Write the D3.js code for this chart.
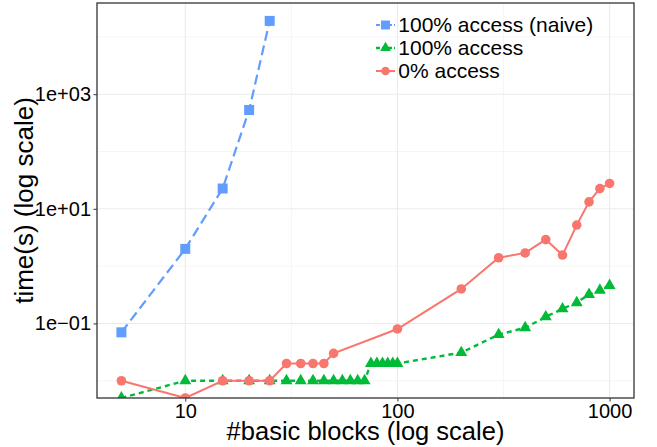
<!DOCTYPE html>
<html>
<head>
<meta charset="utf-8">
<script src="https://cdn.jsdelivr.net/npm/d3@7"></script>
<style>
  body { margin: 0; background: #fff; }
  svg { font-family: "Liberation Sans", Arial, Helvetica, sans-serif; }
  .axis text { fill: #000; font-size: 20px; }
  .axis line { stroke: #333; stroke-width: 1; }
</style>
</head>
<body>
<div id="chart"></div>
<script>
// series values
var naiveX = [5, 10, 15, 20, 25];
var naiveY = [0.07, 2, 22.6, 530, 19000];

var fullX = [5, 10, 15, 20, 25, 30, 35, 40, 45, 50, 55, 60, 65, 70,
             75, 80, 85, 90, 95, 100, 200, 300, 400, 500, 600, 700, 800, 900, 1000];
var fullY = [0.005, 0.01, 0.01, 0.01, 0.01, 0.01, 0.01, 0.01, 0.01, 0.01, 0.01, 0.01, 0.01, 0.01,
             0.02, 0.02, 0.02, 0.02, 0.02, 0.02, 0.031, 0.064, 0.084, 0.13, 0.18, 0.23, 0.32, 0.38, 0.46];

var zeroX = [5, 10, 15, 20, 25, 30, 35, 40, 45, 50, 100, 200, 300, 400, 500, 600, 700, 800, 900, 1000];
var zeroY = [0.01, 0.005, 0.01, 0.01, 0.01, 0.02, 0.02, 0.02, 0.02, 0.03, 0.08, 0.4, 1.4, 1.7, 2.9, 1.56, 5.2, 13.2, 22.6, 27.7];

var seriesNames = ["100% access (naive)", "100% access", "0% access"];

var xTicks = [10, 100, 1000];
var xTickLabels = ["10", "100", "1000"];
var yTicks = [0.1, 10, 1000];
var yTickLabels = ["1e\u221201", "1e+01", "1e+03"];
var yLimits = [0.005, 39000];

var width = 657, height = 447;
var panel = {left: 97, right: 634, top: 3, bottom: 398};

var svg = d3.select("#chart").append("svg")
    .attr("width", width)
    .attr("height", height);

// ggplot style 5% expansion on the log x range
var lx = d3.extent(fullX.concat(zeroX, naiveX)).map(Math.log10);
var pad = (lx[1] - lx[0]) * 0.05;
var x = d3.scaleLog()
    .domain([Math.pow(10, lx[0] - pad), Math.pow(10, lx[1] + pad)])
    .range([panel.left, panel.right]);

var y = d3.scaleLog()
    .domain(yLimits)
    .range([panel.bottom, panel.top]);

// grid: minor lines half way between majors (in log space)
function minorOf(ticks) {
    var out = [];
    var all = [ticks[0] / (ticks[1] / ticks[0])].concat(ticks, [ticks[ticks.length - 1] * (ticks[1] / ticks[0])]);
    for (var i = 0; i < all.length - 1; i++) out.push(Math.sqrt(all[i] * all[i + 1]));
    return out;
}
var xMinor = minorOf(xTicks).filter(function(d) { return d > x.domain()[0] && d < x.domain()[1]; });
var yMinor = minorOf(yTicks).filter(function(d) { return d > y.domain()[0] && d < y.domain()[1]; });

var grid = svg.append("g");
grid.selectAll(".xminor").data(xMinor).enter().append("line")
    .attr("x1", function(d) { return x(d); }).attr("x2", function(d) { return x(d); })
    .attr("y1", panel.top).attr("y2", panel.bottom)
    .attr("stroke", "#f2f2f2").attr("stroke-width", 0.8);
grid.selectAll(".yminor").data(yMinor).enter().append("line")
    .attr("y1", function(d) { return y(d); }).attr("y2", function(d) { return y(d); })
    .attr("x1", panel.left).attr("x2", panel.right)
    .attr("stroke", "#f2f2f2").attr("stroke-width", 0.8);
grid.selectAll(".xmajor").data(xTicks).enter().append("line")
    .attr("x1", function(d) { return x(d); }).attr("x2", function(d) { return x(d); })
    .attr("y1", panel.top).attr("y2", panel.bottom)
    .attr("stroke", "#ebebeb").attr("stroke-width", 1.1);
grid.selectAll(".ymajor").data(yTicks).enter().append("line")
    .attr("y1", function(d) { return y(d); }).attr("y2", function(d) { return y(d); })
    .attr("x1", panel.left).attr("x2", panel.right)
    .attr("stroke", "#ebebeb").attr("stroke-width", 1.1);

svg.append("clipPath").attr("id", "clip")
    .append("rect")
    .attr("x", panel.left).attr("y", panel.top)
    .attr("width", panel.right - panel.left)
    .attr("height", panel.bottom - panel.top);

var plot = svg.append("g").attr("clip-path", "url(#clip)");

function pts(xs, ys) {
    return xs.map(function(d, i) { return {x: d, y: ys[i]}; });
}

var line = d3.line()
    .x(function(d) { return x(d.x); })
    .y(function(d) { return y(d.y); });

var series = [
    {name: seriesNames[0], data: pts(naiveX, naiveY), color: "#619CFF", dash: "10,5", lw: 2.2, shape: d3.symbolSquare, size: 100},
    {name: seriesNames[1], data: pts(fullX, fullY), color: "#00BA38", dash: "5,4", lw: 2.4, shape: d3.symbolTriangle, size: 62},
    {name: seriesNames[2], data: pts(zeroX, zeroY), color: "#F8766D", dash: null, lw: 2, shape: d3.symbolCircle, size: 72}
];

series.forEach(function(s) {
    plot.append("path")
        .attr("d", line(s.data))
        .attr("fill", "none")
        .attr("stroke", s.color)
        .attr("stroke-width", s.lw)
        .attr("stroke-dasharray", s.dash);
    plot.selectAll(null)
        .data(s.data)
        .enter()
        .append("path")
        .attr("d", d3.symbol().type(s.shape).size(s.size))
        .attr("transform", function(d) { return "translate(" + x(d.x) + "," + y(d.y) + ")"; })
        .attr("fill", s.color);
});

// panel border
svg.append("rect")
    .attr("x", panel.left).attr("y", panel.top)
    .attr("width", panel.right - panel.left)
    .attr("height", panel.bottom - panel.top)
    .attr("fill", "none")
    .attr("stroke", "#333")
    .attr("stroke-width", 1.3);

var xAxis = svg.append("g")
    .attr("class", "axis")
    .attr("transform", "translate(0," + panel.bottom + ")")
    .call(d3.axisBottom(x)
        .tickValues(xTicks)
        .tickFormat(function(d, i) { return xTickLabels[i]; })
        .tickSize(3.5)
        .tickPadding(2));
xAxis.select(".domain").remove();

var yAxis = svg.append("g")
    .attr("class", "axis")
    .attr("transform", "translate(" + panel.left + ",0)")
    .call(d3.axisLeft(y)
        .tickValues(yTicks)
        .tickFormat(function(d, i) { return yTickLabels[i]; })
        .tickSize(3.5)
        .tickPadding(2.5));
yAxis.select(".domain").remove();

svg.selectAll(".axis").attr("font-family", null).attr("font-size", null);

// axis titles
svg.append("text")
    .attr("x", (panel.left + panel.right) / 2)
    .attr("y", 440)
    .attr("text-anchor", "middle")
    .attr("font-size", 25.5)
    .text("#basic blocks (log scale)");

svg.append("text")
    .attr("transform", "translate(33," + ((panel.top + panel.bottom) / 2) + ") rotate(-90)")
    .attr("text-anchor", "middle")
    .attr("font-size", 26)
    .text("time(s) (log scale)");

// legend
var legend = svg.append("g").attr("transform", "translate(376,25)");
var rows = legend.selectAll("g")
    .data(series)
    .enter()
    .append("g")
    .attr("transform", function(d, i) { return "translate(0," + (i * 23) + ")"; });

rows.append("line")
    .attr("x1", 0).attr("x2", 19)
    .attr("stroke", function(d) { return d.color; })
    .attr("stroke-width", function(d) { return d.lw; })
    .attr("stroke-dasharray", function(d) { return d.dash ? "4,2" : null; });

rows.append("path")
    .attr("d", function(d) { return d3.symbol().type(d.shape).size(d.size * 0.8)(); })
    .attr("transform", "translate(9.5,0)")
    .attr("fill", function(d) { return d.color; });

rows.append("text")
    .attr("x", 22.3)
    .attr("dy", "0.33em")
    .attr("font-size", 21)
    .text(function(d) { return d.name; });
</script>
</body>
</html>
